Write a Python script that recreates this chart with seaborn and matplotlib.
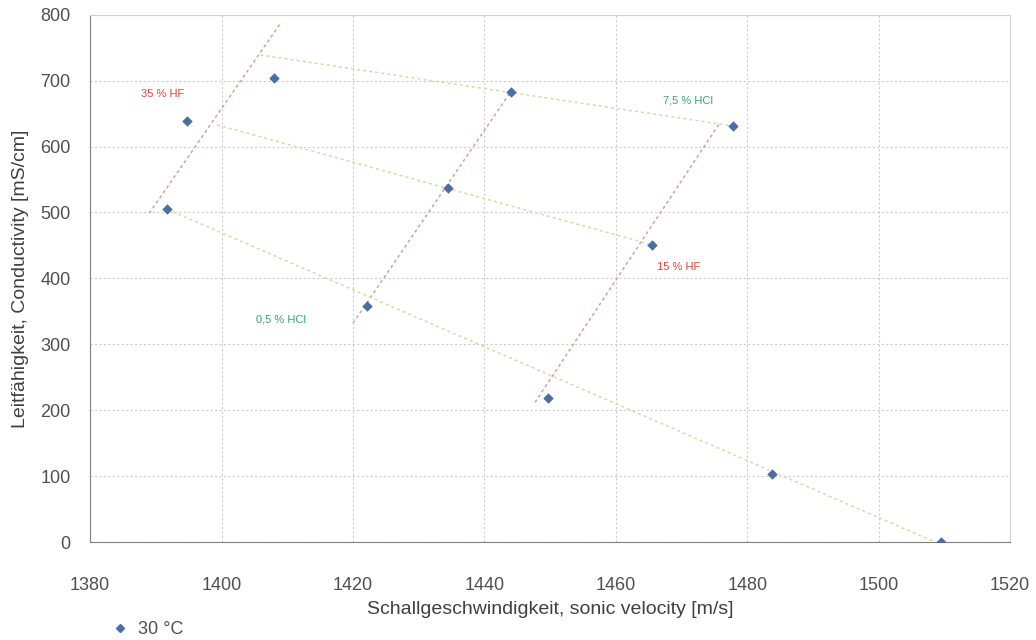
import numpy as np, pandas as pd
import matplotlib
matplotlib.use("Agg")
import matplotlib.pyplot as plt
import seaborn as sns

# messpunkte 30 °C
velocity = [1408.0, 1394.8, 1391.7, 1444.1, 1477.9, 1465.5, 1434.5, 1422.1, 1449.7, 1483.8, 1509.5]
conductivity = [704, 639, 505, 683, 631, 451, 537, 358, 218, 103, 0]

# HF-linien (rot, steil)
hf_x = [[1389.0, 1408.9], [1420.0, 1444.2], [1447.7, 1475.9]]
hf_y = [[499, 786], [332, 686], [212, 637]]

# HCl-linien (gelb, flach)
hcl_x = [[1405.9, 1478.0], [1399.3, 1465.5], [1391.7, 1508.6]]
hcl_y = [[739, 631], [633, 451], [505, 0]]

label_text = ["35 % HF", "7,5 % HCl", "15 % HF", "0,5 % HCl"]
label_x = [1391, 1471, 1469.5, 1409]
label_y = [680, 670, 417, 337]
label_col = ["#e8403a", "#3aa36b", "#e8403a", "#3aa36b"]

sns.set_style("white")
plt.rcParams['font.family'] = ['Liberation Sans', 'DejaVu Sans']

fig = plt.figure(figsize=(10.36, 6.4), dpi=100)
ax = fig.add_axes([0.087, 0.153, 0.888, 0.824])

for xs, ys in zip(hf_x, hf_y):
    ax.plot(xs, ys, linestyle=(0, (2, 2)), color="#dc9a9a", lw=1.1, zorder=2)
for xs, ys in zip(hcl_x, hcl_y):
    ax.plot(xs, ys, linestyle=(0, (2, 2)), color="#ddd8a8", lw=1.1, zorder=2)

df = pd.DataFrame({"v": velocity, "k": conductivity})
sns.scatterplot(data=df, x="v", y="k", marker="D", s=24, color="#4a6fa5",
                edgecolor="#4a6fa5", ax=ax, zorder=3, legend=False)

for t, x, y, c in zip(label_text, label_x, label_y, label_col):
    ax.text(x, y, t, color=c, fontsize=8, ha="center", va="center")

ax.set_xlim(1380, 1520)
ax.set_ylim(0, 800)
ax.set_xticks(np.arange(1380, 1521, 20))
ax.set_yticks(np.arange(0, 801, 100))
ax.grid(True, linestyle=(0, (2, 2)), color="#cccccc", lw=0.8)
for s in ax.spines.values():
    s.set_color("#d0d0d0")
ax.spines["left"].set_color("#808080")
ax.spines["bottom"].set_color("#808080")
ax.tick_params(axis="x", direction="inout", length=10, color="#808080", labelsize=13, labelcolor="#505050", pad=20)
ax.tick_params(axis="y", direction="out", length=6, color="#808080", labelsize=13, labelcolor="#505050", pad=8)
ax.set_xlabel("Schallgeschwindigkeit, sonic velocity [m/s]", fontsize=14, color="#404040", labelpad=5)
ax.set_ylabel("Leitfähigkeit, Conductivity [mS/cm]", fontsize=14, color="#404040", labelpad=8)

h = plt.Line2D([], [], marker="D", color="#4a6fa5", linestyle="", markersize=4)
fig.legend([h], ["30 °C"], loc="lower left", bbox_to_anchor=(0.083, -0.022), frameon=False,
           fontsize=13, handletextpad=0.0, labelcolor="#505050")

fig.savefig("out.png", dpi=100)
